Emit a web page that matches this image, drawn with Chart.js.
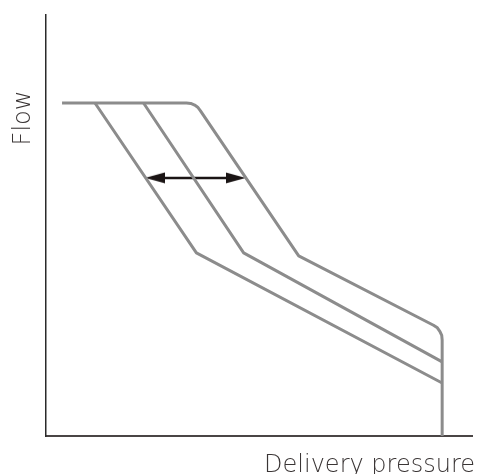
<!DOCTYPE html>
<html>
<head>
<meta charset="utf-8">
<script src="https://cdn.jsdelivr.net/npm/chart.js@4"></script>
<style>
  html, body { margin: 0; padding: 0; background: #fff; }
  #wrap { width: 479px; height: 474px; }
</style>
</head>
<body>
<div id="wrap"><canvas id="chart" width="479" height="474"></canvas></div>
<script>
// Curve shapes (x = delivery pressure, y = flow)
const topX = [3.7, 32.4, 33.4, 34.3, 35.0, 35.6, 58.3, 89.4, 90.3, 90.9, 91.3, 91.4, 91.4];
const topY = [79.1, 79.1, 79.0, 78.6, 78.1, 77.3, 42.8, 26.3, 25.7, 24.8, 23.9, 22.8, 0];
const midX = [22.5, 45.6, 91.4];
const midY = [79.1, 43.5, 17.6];
const lowX = [11.3, 34.7, 91.4];
const lowY = [79.1, 43.5, 12.6];
const arrowX = [25.2, 43.75];
const arrowY = [61.3, 61.3];

const xTitle = "Delivery pressure";
const yTitle = "Flow";

const pts = (xs, ys) => xs.map((x, i) => ({ x: x, y: ys[i] }));
const gray = "#8c8c8c";

function curve(data) {
  return {
    data: data,
    borderColor: gray,
    borderWidth: 3,
    pointRadius: 0,
    tension: 0,
    borderJoinStyle: "round",
    borderCapStyle: "butt"
  };
}

// long narrow arrowhead, pointing right; rotated for the left end
function arrowHead() {
  const cv = document.createElement("canvas");
  cv.width = 20; cv.height = 12;
  const c = cv.getContext("2d");
  c.fillStyle = "#1a1414";
  c.beginPath();
  c.moveTo(0, 0.5);
  c.lineTo(20, 6);
  c.lineTo(0, 11.5);
  c.closePath();
  c.fill();
  return cv;
}
const head = arrowHead();

// axis titles drawn by hand so they sit where the picture has them
const axisText = {
  id: "axisText",
  afterDraw(chart) {
    const c = chart.ctx;
    c.save();
    c.fillStyle = "#3a3535";
    c.font = "200 24px 'DejaVu Sans'";
    c.textAlign = "right";
    c.textBaseline = "alphabetic";
    c.fillText(xTitle, 475, 472);
    c.translate(30, 118);
    c.rotate(-Math.PI / 2);
    c.textAlign = "center";
    c.fillText(yTitle, 0, 0);
    c.restore();
  }
};

new Chart(document.getElementById("chart"), {
  type: "line",
  data: {
    datasets: [
      curve(pts(topX, topY)),
      curve(pts(midX, midY)),
      curve(pts(lowX, lowY)),
      {
        data: pts(arrowX, arrowY),
        borderColor: "#1a1414",
        borderWidth: 2.5,
        pointStyle: head,
        pointRotation: [180, 0]
      }
    ]
  },
  options: {
    responsive: false,
    animation: false,
    layout: { padding: { left: 46, right: 1, top: 15, bottom: 38 } },
    plugins: { legend: { display: false }, tooltip: { enabled: false } },
    scales: {
      x: {
        type: "linear", min: 0, max: 98.4,
        ticks: { display: false },
        grid: { display: false, drawTicks: false },
        border: { display: true, color: "#4a4545", width: 2 }
      },
      y: {
        type: "linear", min: 0, max: 100,
        ticks: { display: false },
        grid: { display: false, drawTicks: false },
        border: { display: true, color: "#2a2a2a", width: 1.5 }
      }
    }
  },
  plugins: [axisText]
});
</script>
</body>
</html>
